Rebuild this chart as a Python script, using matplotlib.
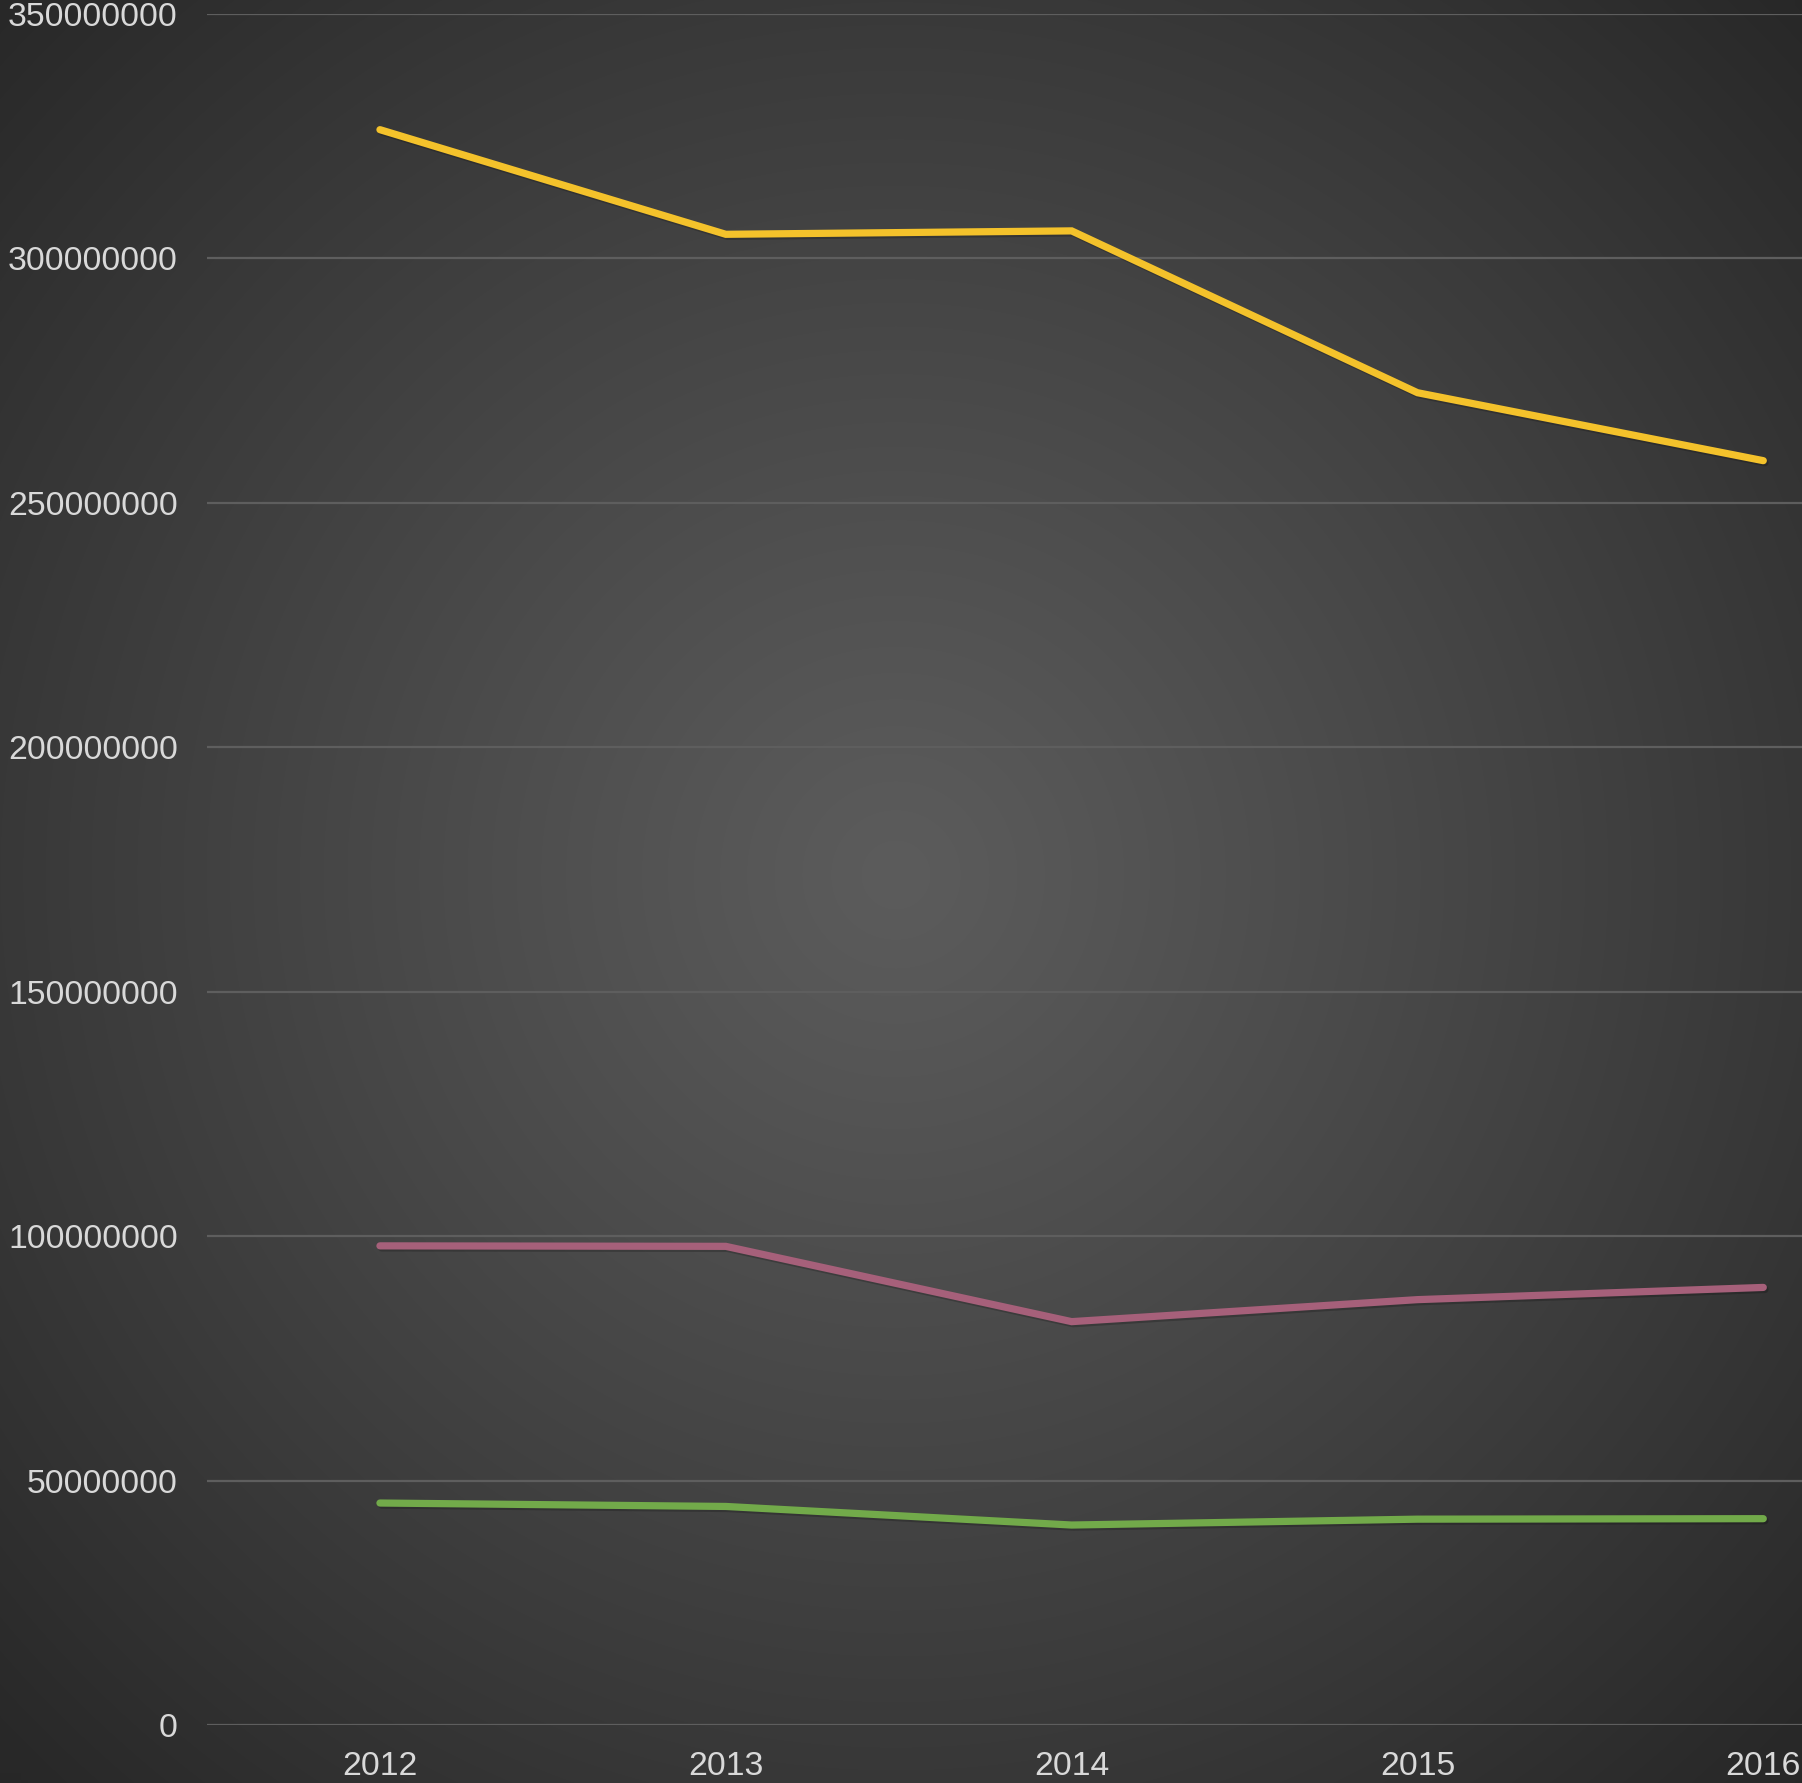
import numpy as np
import matplotlib
matplotlib.use("Agg")
import matplotlib.pyplot as plt
import matplotlib.patheffects as pe
from matplotlib.ticker import FuncFormatter, MultipleLocator

# ── Data ──────────────────────────────────────────────────────────────────────
years  = ["2012", "2013", "2014", "2015", "2016"]
yellow = [326.3e6, 304.9e6, 305.6e6, 272.5e6, 258.6e6]
pink   = [98.0e6, 97.9e6, 82.5e6, 87.0e6, 89.5e6]
green  = [45.4e6, 44.7e6, 40.9e6, 42.1e6, 42.2e6]

W, H, DPI = 1802, 1783, 100
# small epsilon so float rounding doesn't drop a pixel row
fig = plt.figure(figsize=((W + 0.2) / DPI, (H + 0.2) / DPI), dpi=DPI)
plt.rcParams['font.family'] = ['Liberation Sans', 'DejaVu Sans']

# ── Radial gradient background ───────────────────────────────────────────────
bg = fig.add_axes([0, 0, 1, 1], zorder=0)
yy, xx = np.mgrid[0:H, 0:W]
cx, cy = 895, 875
r = np.sqrt(((xx - cx) / 1250.0) ** 2 + ((yy - cy) / 1250.0) ** 2)
r = np.clip(r, 0, 1)
inner, outer = 0x5c / 255, 0x28 / 255
shade = inner + (outer - inner) * r ** 1.1
bg.imshow(np.dstack([shade, shade, shade]), extent=(0, 1, 0, 1),
          aspect='auto', interpolation='bilinear')
bg.axis('off')

# ── Main axes (extends past the right edge, as in the reference) ─────────────
left, right = 207, 1936
bottom_px, top_px = 1725, 14
ax = fig.add_axes([left / W, (H - bottom_px) / H,
                   (right - left) / W, (bottom_px - top_px) / H], zorder=1)
ax.set_facecolor('none')
ax.patch.set_alpha(0)

x = np.arange(len(years))
shadow = [pe.SimpleLineShadow(offset=(1.2, -1.5), alpha=0.2, shadow_color='black'),
          pe.Normal()]
for vals, col in ((yellow, '#f4c22b'), (pink, '#a6607a'), (green, '#72aa4a')):
    ax.plot(x, vals, color=col, lw=5.2, solid_capstyle='round',
            solid_joinstyle='miter', path_effects=shadow, zorder=3, clip_on=False)

ax.set_xlim(-0.5, len(years) - 0.5)
ax.set_ylim(0, 350e6)
ax.yaxis.set_major_locator(MultipleLocator(50e6))
ax.yaxis.set_major_formatter(FuncFormatter(lambda v, p: f'{v:.0f}'))
ax.set_xticks(x)
ax.set_xticklabels(years)

for s in ax.spines.values():
    s.set_visible(False)
ax.grid(True, axis='y', color='#5e5e5e', linewidth=1.6, zorder=1)
ax.set_axisbelow(True)
ax.tick_params(axis='both', length=0, labelsize=24.3, colors='#d9d9d9')
ax.tick_params(axis='y', pad=21)
ax.tick_params(axis='x', pad=18.5)

fig.savefig('out.png', dpi=DPI)
